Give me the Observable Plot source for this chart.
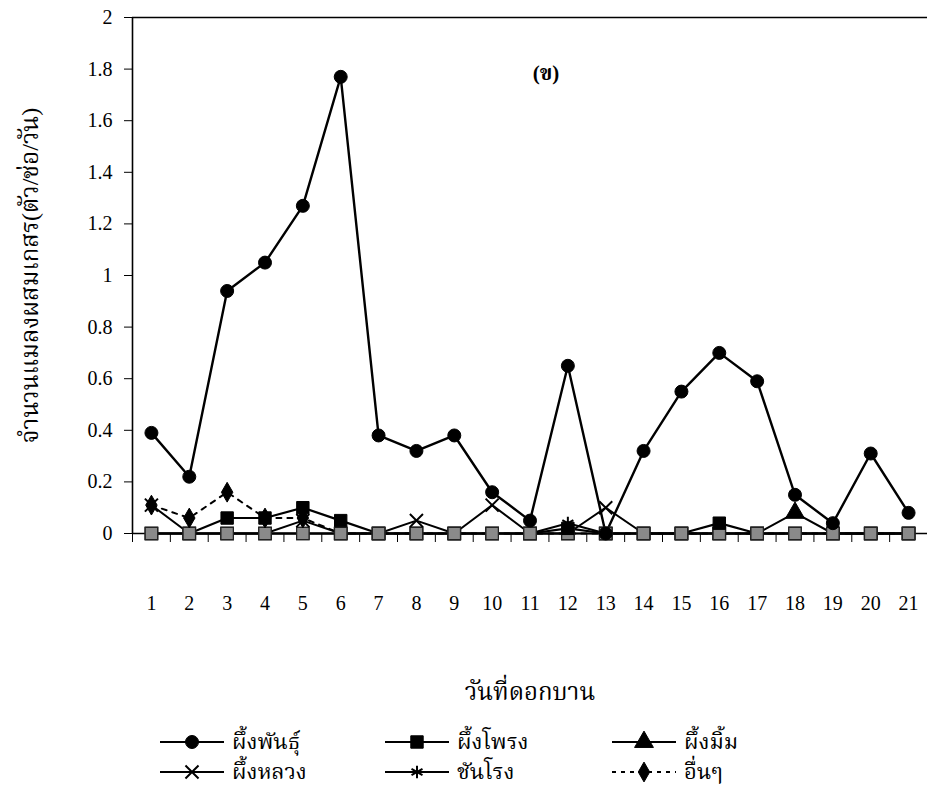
<!DOCTYPE html>
<html>
<head>
<meta charset="utf-8">
<script src="https://cdn.jsdelivr.net/npm/d3@7"></script>
<script src="https://cdn.jsdelivr.net/npm/@observablehq/plot@0.6"></script>
<style>
  html, body { margin: 0; padding: 0; background: #fff; }
  body { width: 927px; font-family: "Liberation Serif", "Noto Serif Thai", "Noto Sans Thai", serif; color: #000; }
  #legend { position: relative; height: 88px; }
  .item { position: absolute; display: flex; align-items: center; height: 28px; }
  .item span { font-size: 22px; margin-left: 8px; line-height: 1; }
</style>
</head>
<body>
<div id="chart"></div>
<div id="legend"></div>
<script>
// ---- data ----
const days = [1,2,3,4,5,6,7,8,9,10,11,12,13,14,15,16,17,18,19,20,21];
const yTicks = [0,0.2,0.4,0.6,0.8,1,1.2,1.4,1.6,1.8,2];
const seriesNames = ["ผึ้งพันธุ์","ผึ้งโพรง","ผึ้งมิ้ม","ผึ้งหลวง","ชันโรง","อื่นๆ"];
const phungPhan  = [0.39,0.22,0.94,1.05,1.27,1.77,0.38,0.32,0.38,0.16,0.05,0.65,0,0.32,0.55,0.70,0.59,0.15,0.04,0.31,0.08];
const phungPhrong= [0,0,0.06,0.06,0.10,0.05,0,0,0,0,0,0.02,0,0,0,0.04,0,0,0,0,0];
const phungMim   = [0,0,0,0,0,0,0,0,0,0,0,0,0,0,0,0,0,0.08,0,0,0];
const phungLuang = [0.11,0,0,0,0.05,0,0,0.05,0,0.11,0,0,0.10,0,0,0,0,0,0,0,0];
const chanrong   = [0,0,0,0,0,0,0,0,0,0,0,0.04,0,0,0,0,0,0,0,0,0];
const uenUen     = [0.11,0.06,0.16,0.06,0.06,0,0,0,0,0,0,0,0,0,0,0,0,0,0,0,0];
const xLabel = "วันที่ดอกบาน";
const yLabel = "จำนวนแมลงผสมเกสร(ตัว/ช่อ/วัน)";
const panelLabel = "(ข)";

// ---- styles (kept apart from data) ----
const seriesValues = [phungPhan, phungPhrong, phungMim, phungLuang, chanrong, uenUen];
const styles = {
  "ผึ้งพันธุ์": {symbol: "circle", r: 6.5, fill: "#000", dash: null, sw: 2.4},
  "ผึ้งโพรง": {symbol: "square", r: 7, fill: "#000", dash: null, sw: 2.2},
  "ผึ้งมิ้ม": {symbol: "triangle", r: 7, fill: "#000", dash: null, sw: 2},
  "ผึ้งหลวง": {symbol: "times", r: 6, fill: "none", dash: null, sw: 2},
  "ชันโรง": {symbol: "asterisk", r: 6, fill: "none", dash: null, sw: 2},
  "อื่นๆ": {symbol: "diamond", r: 6, fill: "#000", dash: "5,6", sw: 2}
};

const rows = seriesNames.map((s, i) => days.map((d, j) => ({series: s, day: d, value: seriesValues[i][j]})));
const bySeries = Object.fromEntries(seriesNames.map((s, i) => [s, rows[i]]));
const boundaries = days.map(d => d - 0.5);

const H = 712, y0px = 533;
const drawOrder = ["อื่นๆ","ผึ้งมิ้ม","ผึ้งหลวง","ชันโรง","ผึ้งโพรง","ผึ้งพันธุ์"];
const minorSeries = drawOrder.filter(s => s !== "ผึ้งพันธุ์");

const marks = [
  Plot.ruleY([2], {stroke: "#000", strokeWidth: 1.6}),
  Plot.ruleX([0.5], {stroke: "#000", strokeWidth: 1.6}),
  Plot.ruleX([21.5], {stroke: "#000", strokeWidth: 1, strokeDasharray: "2,2"}),
  Plot.ruleY([0], {stroke: "#000", strokeWidth: 1.6}),
  Plot.axisY({ticks: yTicks, tickFormat: d3.format("~g"), tickSize: 8, tickPadding: 12, fontSize: 20,
    label: yLabel, labelAnchor: "center", labelOffset: 112, labelArrow: "none"}),
  Plot.axisX({ticks: boundaries, tickSize: 9, tickFormat: () => "", label: null}),
  Plot.axisX({ticks: days, tickSize: 0, tickPadding: 62, tickFormat: d => String(d), fontSize: 20,
    label: xLabel, labelAnchor: "center", labelOffset: 166, labelArrow: "none"})
];
for (const s of drawOrder) {
  const st = styles[s];
  marks.push(Plot.line(bySeries[s], {x: "day", y: "value", stroke: "#000", strokeWidth: st.sw, strokeDasharray: st.dash}));
}
// overlapping zero-level markers of the minor series appear as grey squares
const zeroRows = minorSeries.flatMap(s => bySeries[s].filter(d => d.value === 0));
marks.push(Plot.dot(zeroRows, {x: "day", y: "value", symbol: "square", r: 7, fill: "#8a8a8a", stroke: "#222", strokeWidth: 1.2}));
for (const s of drawOrder) {
  const st = styles[s];
  const nz = bySeries[s].filter(d => d.value !== 0);
  if (st.fill === "none") {
    marks.push(Plot.dot(nz, {x: "day", y: "value", symbol: st.symbol, r: st.r, stroke: "#000", strokeWidth: 2}));
  } else {
    marks.push(Plot.dot(s === "ผึ้งพันธุ์" ? bySeries[s] : nz, {x: "day", y: "value", symbol: st.symbol, r: st.r, fill: st.fill, stroke: "#000", strokeWidth: 1}));
  }
}
marks.push(Plot.text([panelLabel], {frameAnchor: "top", dx: 16, dy: 48, fontWeight: "bold", fontSize: 21}));

const chart = Plot.plot({
  width: 927, height: H,
  marginLeft: 132, marginRight: 0, marginTop: 17, marginBottom: H - y0px,
  x: {domain: [0.5, 21.5]},
  y: {domain: [0, 2]},
  style: {fontFamily: "'Liberation Serif', 'Noto Serif Thai', 'Noto Sans Thai', serif", fontSize: "20px", color: "#000", background: "#fff"},
  marks
});
document.getElementById("chart").appendChild(chart);
// axis titles a little larger, as in the reference
chart.querySelectorAll("g[aria-label='y-axis label'] text, g[aria-label='x-axis label'] text").forEach(t => t.setAttribute("font-size", "24"));

// ---- legend ----
const legend = document.getElementById("legend");
const positions = [[160, 16],[385, 16],[612, 16],[160, 46],[385, 46],[612, 46]];
const symMap = {circle: d3.symbolCircle, square: d3.symbolSquare, triangle: d3.symbolTriangle, times: d3.symbolTimes, asterisk: d3.symbolAsterisk, diamond: d3.symbolDiamond};
seriesNames.forEach((s, i) => {
  const st = styles[s];
  const div = document.createElement("div");
  div.className = "item";
  div.style.left = positions[i][0] + "px";
  div.style.top = positions[i][1] + "px";
  const svg = d3.create("svg").attr("width", 64).attr("height", 24);
  svg.append("line").attr("x1", 0).attr("x2", 64).attr("y1", 12).attr("y2", 12)
    .attr("stroke", "#000").attr("stroke-width", 2).attr("stroke-dasharray", st.dash ? "4,5" : null);
  const path = d3.symbol(symMap[st.symbol], Math.PI * st.r * st.r)();
  svg.append("path").attr("d", path).attr("transform", "translate(32,12)")
    .attr("fill", st.fill === "none" ? "none" : "#000").attr("stroke", "#000").attr("stroke-width", st.fill === "none" ? 2 : 1);
  div.appendChild(svg.node());
  const span = document.createElement("span");
  span.textContent = s;
  div.appendChild(span);
  legend.appendChild(div);
});
</script>
</body>
</html>
